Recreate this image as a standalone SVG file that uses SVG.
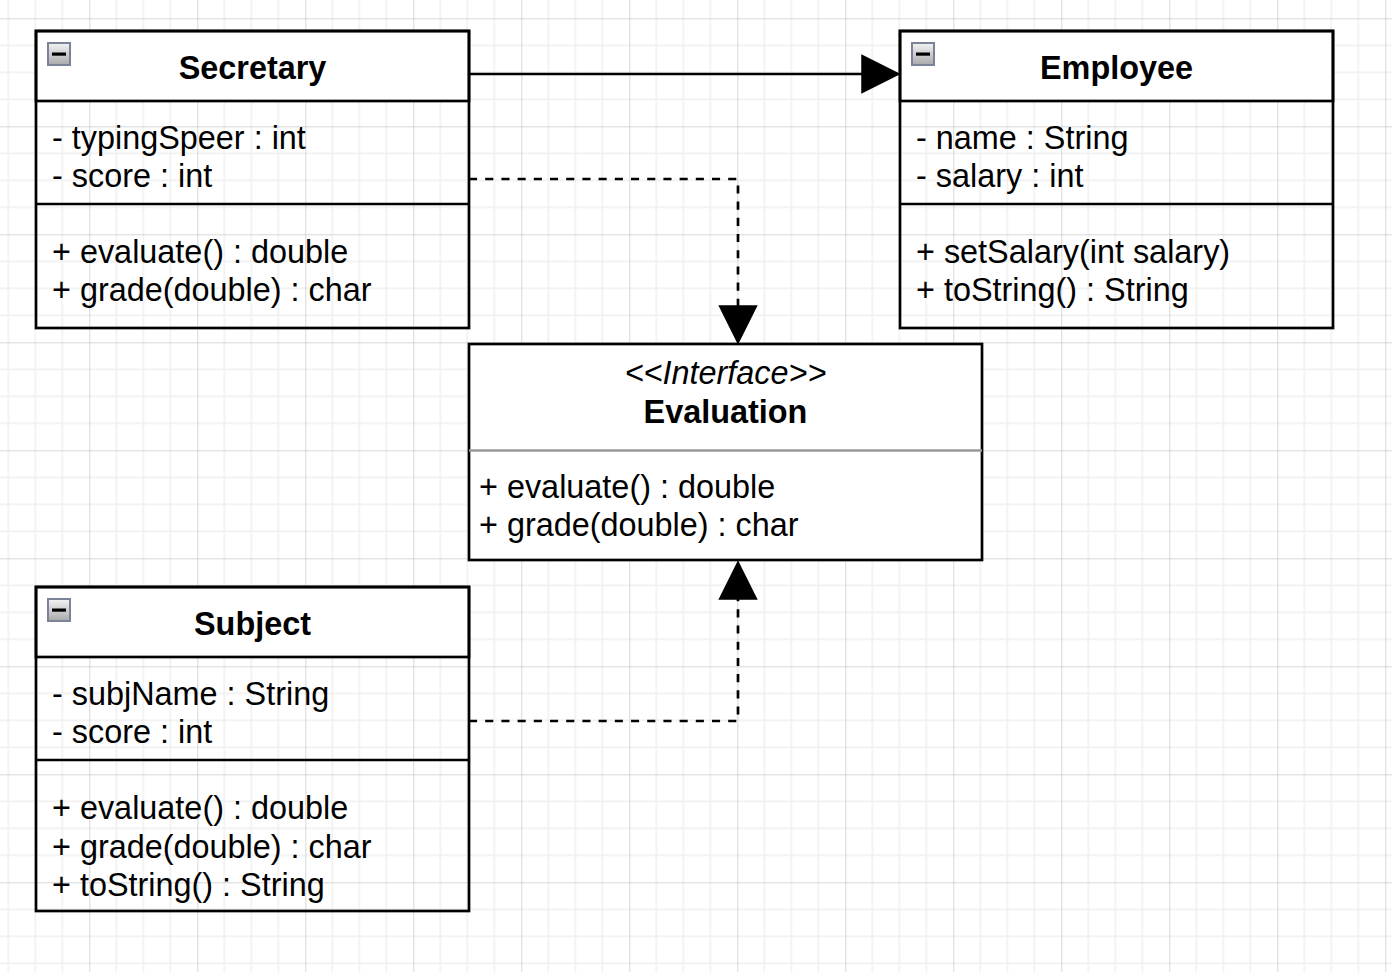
<svg xmlns="http://www.w3.org/2000/svg" width="1392" height="972" viewBox="0 0 1392 972">
<defs>
<pattern id="grid" x="-18.7" y="18.3" width="108" height="108" patternUnits="userSpaceOnUse">
<rect x="26.2" y="0" width="1.6" height="108" fill="#f0f0f0"/>
<rect x="53.2" y="0" width="1.6" height="108" fill="#f0f0f0"/>
<rect x="80.2" y="0" width="1.6" height="108" fill="#f0f0f0"/>
<rect x="0" y="26.2" width="108" height="1.6" fill="#f0f0f0"/>
<rect x="0" y="53.2" width="108" height="1.6" fill="#f0f0f0"/>
<rect x="0" y="80.2" width="108" height="1.6" fill="#f0f0f0"/>
<rect x="-0.5" y="0" width="1.2" height="108" fill="#c6c6c6"/>
<rect x="0" y="-0.5" width="108" height="1.2" fill="#c6c6c6"/>
</pattern>
<linearGradient id="btn" x1="0" y1="0" x2="0" y2="1">
<stop offset="0" stop-color="#f4f4f4"/>
<stop offset="1" stop-color="#a9a9a9"/>
</linearGradient>
<g id="collapse">
<rect x="0" y="0" width="22" height="22" fill="url(#btn)" stroke="#7a8397" stroke-width="2"/>
<rect x="4" y="9.5" width="14" height="3.2" fill="#000"/>
</g>
</defs>
<style>
.box{fill:none;stroke:#000;stroke-width:2.7}
.head{fill:#fff;stroke:#000;stroke-width:2.7}
.sep{stroke:#000;stroke-width:2.7}
.t{font-family:"Liberation Sans",Arial,Helvetica,sans-serif;font-size:32.4px;fill:#000}
.b{font-weight:bold;text-anchor:middle}
.i{font-style:italic;text-anchor:middle}
.edge{fill:none;stroke:#000;stroke-width:2.7}
.dash{stroke-dasharray:8.1 8.1}
.head-arrow{fill:#000;stroke:#000;stroke-width:1.5}
</style>
<rect x="0" y="0" width="1392" height="972" fill="#fff"/>
<rect x="0" y="0" width="1392" height="972" fill="url(#grid)"/>

<g id="connectors">
<path class="edge" d="M469,74 H862"/>
<polygon class="head-arrow" points="862,55.5 899,74 862,92.5"/>
<path class="edge dash" d="M469,179 H738 V306"/>
<polygon class="head-arrow" points="719.5,306 738,343 756.5,306"/>
<path class="edge dash" d="M469,721 H738 V599"/>
<polygon class="head-arrow" points="719.5,599 738,562 756.5,599"/>
</g>

<g id="secretary">
<rect class="head" x="36" y="31" width="433" height="70"/>
<rect class="box" x="36" y="31" width="433" height="297"/>
<line class="sep" x1="36" y1="204" x2="469" y2="204"/>
<use href="#collapse" x="48" y="43"/>
<text class="t b" x="252.5" y="79">Secretary</text>
<text class="t" x="52" y="148.5">- typingSpeer : int</text>
<text class="t" x="52" y="187">- score : int</text>
<text class="t" x="52" y="262.5">+ evaluate() : double</text>
<text class="t" x="52" y="301">+ grade(double) : char</text>
</g>

<g id="employee">
<rect class="head" x="900" y="31" width="433" height="70"/>
<rect class="box" x="900" y="31" width="433" height="297"/>
<line class="sep" x1="900" y1="204" x2="1333" y2="204"/>
<use href="#collapse" x="912" y="43"/>
<text class="t b" x="1116.5" y="79">Employee</text>
<text class="t" x="916" y="148.5">- name : String</text>
<text class="t" x="916" y="187">- salary : int</text>
<text class="t" x="916" y="262.5">+ setSalary(int salary)</text>
<text class="t" x="916" y="301">+ toString() : String</text>
</g>

<g id="evaluation">
<rect class="head" x="469" y="344" width="513" height="216"/>
<line x1="469" y1="450.5" x2="982" y2="450.5" stroke="#999" stroke-width="2.4"/>
<text class="t i" x="725.5" y="384">&lt;&lt;Interface&gt;&gt;</text>
<text class="t b" x="725.5" y="423">Evaluation</text>
<text class="t" x="479" y="498">+ evaluate() : double</text>
<text class="t" x="479" y="535.5">+ grade(double) : char</text>
</g>

<g id="subject">
<rect class="head" x="36" y="587" width="433" height="70"/>
<rect class="box" x="36" y="587" width="433" height="324"/>
<line class="sep" x1="36" y1="760" x2="469" y2="760"/>
<use href="#collapse" x="48" y="599"/>
<text class="t b" x="252.5" y="635">Subject</text>
<text class="t" x="52" y="704.5">- subjName : String</text>
<text class="t" x="52" y="743">- score : int</text>
<text class="t" x="52" y="819">+ evaluate() : double</text>
<text class="t" x="52" y="857.5">+ grade(double) : char</text>
<text class="t" x="52" y="895.5">+ toString() : String</text>
</g>
</svg>
